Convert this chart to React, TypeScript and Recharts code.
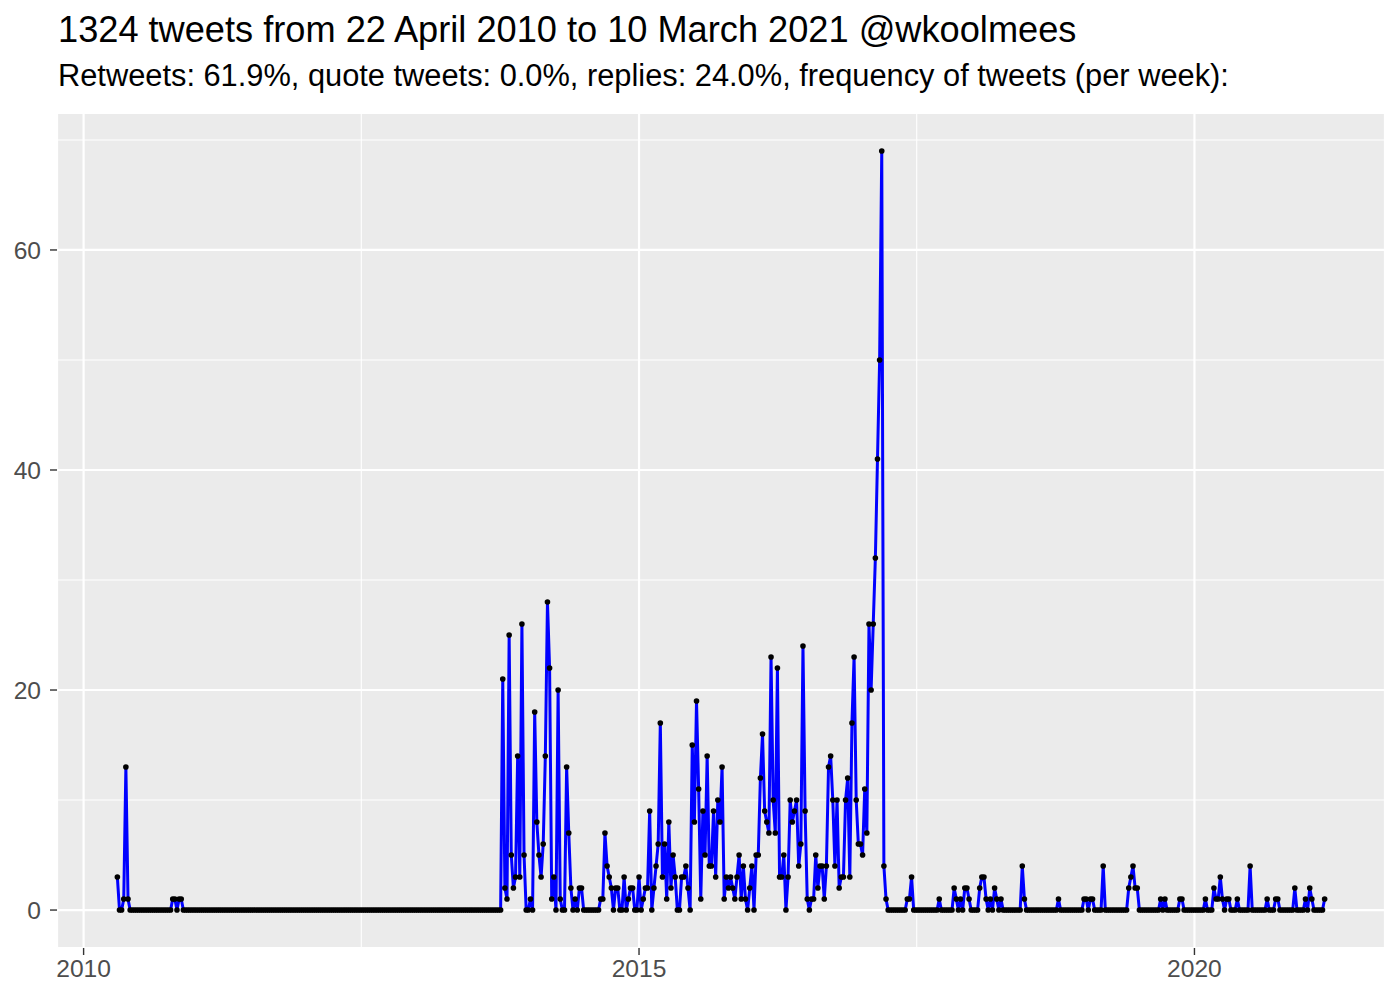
import React from 'react';
import { LineChart, Line, XAxis, YAxis, CartesianGrid } from 'recharts';

// weekly tweet counts, one array per 52 weeks, starting at 22 April 2010
const weeks2010 = [3, 0, 0, 1, 13, 1, 0, 0, 0, 0, 0, 0, 0, 0, 0, 0, 0, 0, 0, 0, 0, 0, 0, 0, 0, 0, 1, 1, 0, 1, 1, 0, 0, 0, 0, 0, 0, 0, 0, 0, 0, 0, 0, 0, 0, 0, 0, 0, 0, 0, 0, 0];
const weeks2011 = [0, 0, 0, 0, 0, 0, 0, 0, 0, 0, 0, 0, 0, 0, 0, 0, 0, 0, 0, 0, 0, 0, 0, 0, 0, 0, 0, 0, 0, 0, 0, 0, 0, 0, 0, 0, 0, 0, 0, 0, 0, 0, 0, 0, 0, 0, 0, 0, 0, 0, 0, 0];
const weeks2012 = [0, 0, 0, 0, 0, 0, 0, 0, 0, 0, 0, 0, 0, 0, 0, 0, 0, 0, 0, 0, 0, 0, 0, 0, 0, 0, 0, 0, 0, 0, 0, 0, 0, 0, 0, 0, 0, 0, 0, 0, 0, 0, 0, 0, 0, 0, 0, 0, 0, 0, 0, 0];
const weeks2013 = [0, 0, 0, 0, 0, 0, 0, 0, 0, 0, 0, 0, 0, 0, 0, 0, 0, 0, 0, 0, 0, 0, 0, 0, 0, 21, 2, 1, 25, 5, 2, 3, 14, 3, 26, 5, 0, 0, 1, 0, 18, 8, 5, 3, 6, 14, 28, 22, 1, 3, 0, 20];
const weeks2014 = [1, 0, 0, 13, 7, 2, 0, 1, 0, 2, 2, 0, 0, 0, 0, 0, 0, 0, 0, 1, 1, 7, 4, 3, 2, 0, 2, 2, 0, 0, 3, 0, 1, 2, 2, 0, 0, 3, 0, 1, 2, 2, 9, 0, 2, 4, 6, 17, 3, 6, 1, 8];
const weeks2015 = [2, 5, 3, 0, 0, 3, 3, 4, 2, 0, 15, 8, 19, 11, 1, 9, 5, 14, 4, 4, 9, 3, 10, 8, 13, 1, 3, 2, 3, 2, 1, 3, 5, 1, 4, 1, 0, 2, 4, 0, 5, 5, 12, 16, 9, 8, 7, 23, 10, 7, 22, 3];
const weeks2016 = [3, 5, 0, 3, 10, 8, 9, 10, 4, 6, 24, 9, 1, 0, 1, 1, 5, 2, 4, 4, 1, 4, 13, 14, 10, 4, 10, 2, 3, 3, 10, 12, 3, 17, 23, 10, 6, 6, 5, 11, 7, 26, 20, 26, 32, 41, 50, 69, 4, 1, 0, 0];
const weeks2017 = [0, 0, 0, 0, 0, 0, 0, 1, 1, 3, 0, 0, 0, 0, 0, 0, 0, 0, 0, 0, 0, 0, 1, 0, 0, 0, 0, 0, 0, 2, 1, 0, 1, 0, 2, 2, 1, 0, 0, 0, 0, 2, 3, 3, 1, 0, 1, 0, 2, 1, 0, 1];
const weeks2018 = [0, 0, 0, 0, 0, 0, 0, 0, 0, 4, 1, 0, 0, 0, 0, 0, 0, 0, 0, 0, 0, 0, 0, 0, 0, 0, 1, 0, 0, 0, 0, 0, 0, 0, 0, 0, 0, 0, 1, 1, 0, 1, 1, 0, 0, 0, 0, 4, 0, 0, 0, 0];
const weeks2019 = [0, 0, 0, 0, 0, 0, 0, 2, 3, 4, 2, 2, 0, 0, 0, 0, 0, 0, 0, 0, 0, 0, 1, 0, 1, 0, 0, 0, 0, 0, 0, 1, 1, 0, 0, 0, 0, 0, 0, 0, 0, 0, 0, 1, 0, 0, 0, 2, 1, 1, 3, 1];
const weeks2020 = [0, 1, 1, 0, 0, 0, 1, 0, 0, 0, 0, 0, 4, 0, 0, 0, 0, 0, 0, 0, 1, 0, 0, 0, 1, 1, 0, 0, 0, 0, 0, 0, 0, 2, 0, 0, 0, 0, 1, 0, 2, 1, 0, 0, 0, 0, 0, 1];

const weeklyCounts = [
  ...weeks2010, ...weeks2011, ...weeks2012, ...weeks2013, ...weeks2014, ...weeks2015,
  ...weeks2016, ...weeks2017, ...weeks2018, ...weeks2019, ...weeks2020,
];

const firstWeek = Date.UTC(2010, 3, 22);
const WEEK = 7 * 24 * 3600 * 1000;

const data = weeklyCounts.map((n, i) => ({ week: firstWeek + i * WEEK, n }));

const yearTicks = [Date.UTC(2010, 0, 1), Date.UTC(2015, 0, 1), Date.UTC(2020, 0, 1)];
const minorYearLines = [Date.UTC(2012, 6, 2), Date.UTC(2017, 6, 2)];
const countTicks = [0, 20, 40, 60];
const minorCountLines = [10, 30, 50, 70];

const title = '1324 tweets from 22 April 2010 to 10 March 2021 @wkoolmees';
const subtitle = 'Retweets: 61.9%, quote tweets: 0.0%, replies: 24.0%, frequency of tweets (per week):';

// ggplot-style 5% expansion of both scales
const lastWeek = data[data.length - 1].week;
const xPad = (lastWeek - firstWeek) * 0.05;
const maxCount = Math.max(...weeklyCounts);
const yPad = maxCount * 0.05;

const font = '"Liberation Sans", Arial, Helvetica, sans-serif';

export default function App() {
  return (
    <div style={{ position: 'absolute', left: 0, top: 0, width: 1400, height: 1000, background: '#fff', fontFamily: font }}>
      <div style={{ position: 'absolute', left: 58, top: 12, fontSize: 36.2, lineHeight: 1, color: '#000', whiteSpace: 'nowrap' }}>
        {title}
      </div>
      <div style={{ position: 'absolute', left: 58, top: 61, fontSize: 30.8, lineHeight: 1, color: '#000', whiteSpace: 'nowrap' }}>
        {subtitle}
      </div>
      <LineChart width={1400} height={1000} data={data} margin={{ top: 113, right: 15, bottom: 0, left: 0 }}>
        {/* panel background + minor grid */}
        <CartesianGrid
          fill="#EBEBEB"
          stroke="#fff"
          strokeWidth={1.1}
          horizontalValues={minorCountLines}
          verticalValues={minorYearLines}
        />
        {/* major grid */}
        <CartesianGrid stroke="#fff" strokeWidth={2.2} />
        <XAxis
          dataKey="week"
          type="number"
          domain={[firstWeek - xPad, lastWeek + xPad]}
          ticks={yearTicks}
          tickFormatter={(v) => String(new Date(v).getUTCFullYear())}
          allowDataOverflow
          height={52}
          axisLine={false}
          tickSize={7}
          tickMargin={5}
          tickLine={{ stroke: '#333333', strokeWidth: 1.4 }}
          tick={{ fill: '#4D4D4D', fontSize: 24.6, fontFamily: font }}
        />
        <YAxis
          type="number"
          domain={[-yPad, maxCount + yPad]}
          ticks={countTicks}
          allowDataOverflow
          width={57}
          axisLine={false}
          tickSize={7}
          tickMargin={9}
          tickLine={{ stroke: '#333333', strokeWidth: 1.4 }}
          tick={{ fill: '#4D4D4D', fontSize: 24.6, fontFamily: font }}
        />
        {/* points first, line drawn over them */}
        <Line
          dataKey="n"
          stroke="none"
          dot={{ r: 2.8, fill: '#000', stroke: 'none' }}
          activeDot={false}
          isAnimationActive={false}
        />
        <Line
          dataKey="n"
          stroke="#0000FF"
          strokeWidth={3}
          dot={false}
          activeDot={false}
          isAnimationActive={false}
        />
      </LineChart>
    </div>
  );
}
